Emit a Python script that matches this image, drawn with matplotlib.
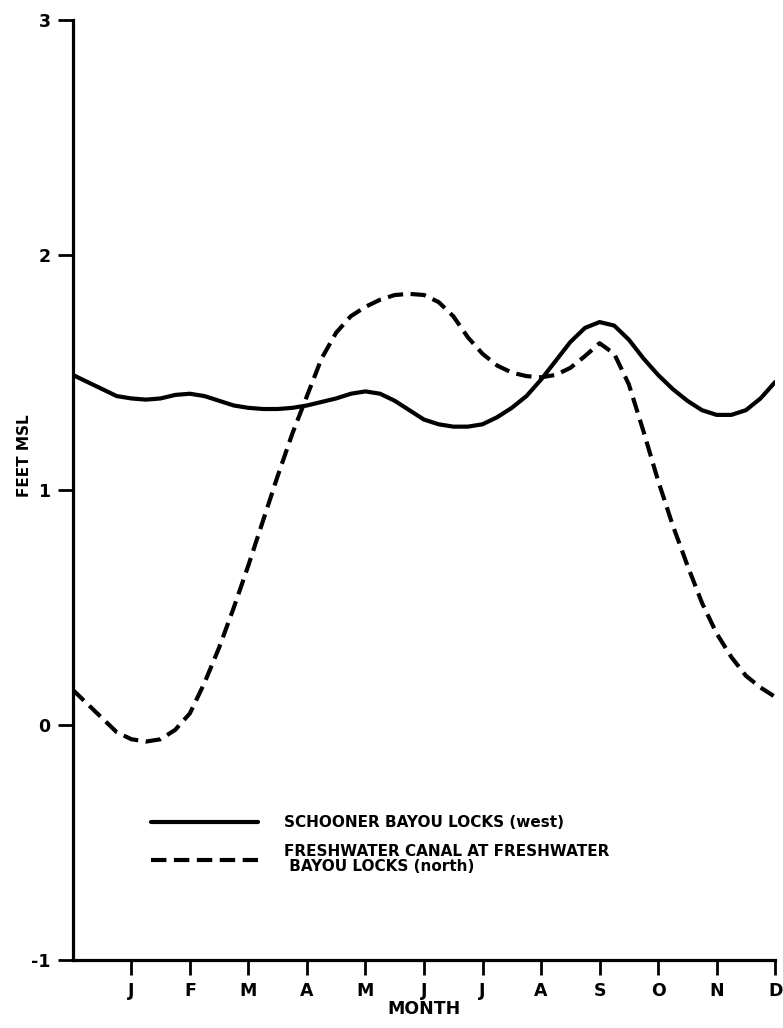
import matplotlib
matplotlib.use("Agg")
import matplotlib.pyplot as plt

plt.rcParams['font.family'] = ['DejaVu Sans']
plt.rcParams['font.weight'] = 'bold'

# month position (0 = start of year, 1 = Jan tick, ... 12 = Dec tick)
months = [0, 0.25, 0.5, 0.75, 1, 1.25, 1.5, 1.75, 2, 2.25, 2.5, 2.75,
          3, 3.25, 3.5, 3.75, 4, 4.25, 4.5, 4.75, 5, 5.25, 5.5, 5.75,
          6, 6.25, 6.5, 6.75, 7, 7.25, 7.5, 7.75, 8, 8.25, 8.5, 8.75,
          9, 9.25, 9.5, 9.75, 10, 10.25, 10.5, 10.75, 11, 11.25, 11.5, 11.75, 12]

# Schooner Bayou Locks (west), feet MSL
schooner = [1.49, 1.46, 1.43, 1.40, 1.39, 1.385, 1.39, 1.405, 1.41, 1.40, 1.38, 1.36,
            1.35, 1.345, 1.345, 1.35, 1.36, 1.375, 1.39, 1.41, 1.42, 1.41, 1.38, 1.34,
            1.30, 1.28, 1.27, 1.27, 1.28, 1.31, 1.35, 1.40, 1.47, 1.55, 1.63, 1.69,
            1.715, 1.70, 1.64, 1.56, 1.49, 1.43, 1.38, 1.34, 1.32, 1.32, 1.34, 1.39, 1.46]

# Freshwater Canal at Freshwater Bayou Locks (north), feet MSL
freshwater = [0.15, 0.09, 0.03, -0.03, -0.06, -0.07, -0.06, -0.02, 0.05, 0.18, 0.33, 0.50,
              0.68, 0.87, 1.06, 1.24, 1.40, 1.56, 1.67, 1.74, 1.78, 1.81, 1.83, 1.835,
              1.83, 1.80, 1.74, 1.65, 1.58, 1.53, 1.50, 1.485, 1.48, 1.49, 1.52, 1.57,
              1.625, 1.58, 1.45, 1.25, 1.04, 0.85, 0.68, 0.52, 0.39, 0.29, 0.21, 0.16, 0.12]

month_ticks = list(range(1, 13))
month_labels = ['J', 'F', 'M', 'A', 'M', 'J', 'J', 'A', 'S', 'O', 'N', 'D']
y_ticks = [-1, 0, 1, 2, 3]

fig = plt.figure(figsize=(7.83, 10.28), dpi=100)
ax = fig.add_axes([0.093, 0.066, 0.897, 0.9145])

ax.plot(months, schooner, color='black', lw=3.0, solid_joinstyle='round',
        solid_capstyle='round', label='SCHOONER BAYOU LOCKS (west)')
ax.plot(months, freshwater, color='black', lw=3.0, dashes=(3.7, 1.8),
        dash_joinstyle='round', label='FRESHWATER CANAL AT FRESHWATER\n BAYOU LOCKS (north)')

ax.set_xlim(0, 12)
ax.set_ylim(-1, 3)
ax.set_xticks(month_ticks)
ax.set_xticklabels(month_labels)
ax.set_yticks(y_ticks)
ax.set_yticklabels([str(v) for v in y_ticks])

for side in ['top', 'right']:
    ax.spines[side].set_visible(False)
for side in ['left', 'bottom']:
    ax.spines[side].set_linewidth(2.3)

ax.tick_params(axis='both', direction='out', length=11, width=2.0,
               labelsize=12.5, pad=5)
ax.tick_params(axis='x', pad=5)

ax.set_xlabel('MONTH', fontsize=12.5, fontweight='bold', labelpad=0)
ax.set_ylabel('FEET MSL', fontsize=11, fontweight='bold', labelpad=6)
ax.yaxis.set_label_coords(-0.058, 0.537)

leg = ax.legend(loc='upper left', bbox_to_anchor=(0.112, 0.154), frameon=False,
                fontsize=11, handlelength=7.0, handletextpad=1.7,
                labelspacing=0.9, borderpad=0, borderaxespad=0)
for t in leg.get_texts():
    t.set_fontweight('bold')
    t.set_linespacing(1.0)

fig.savefig('out.png', dpi=100)
